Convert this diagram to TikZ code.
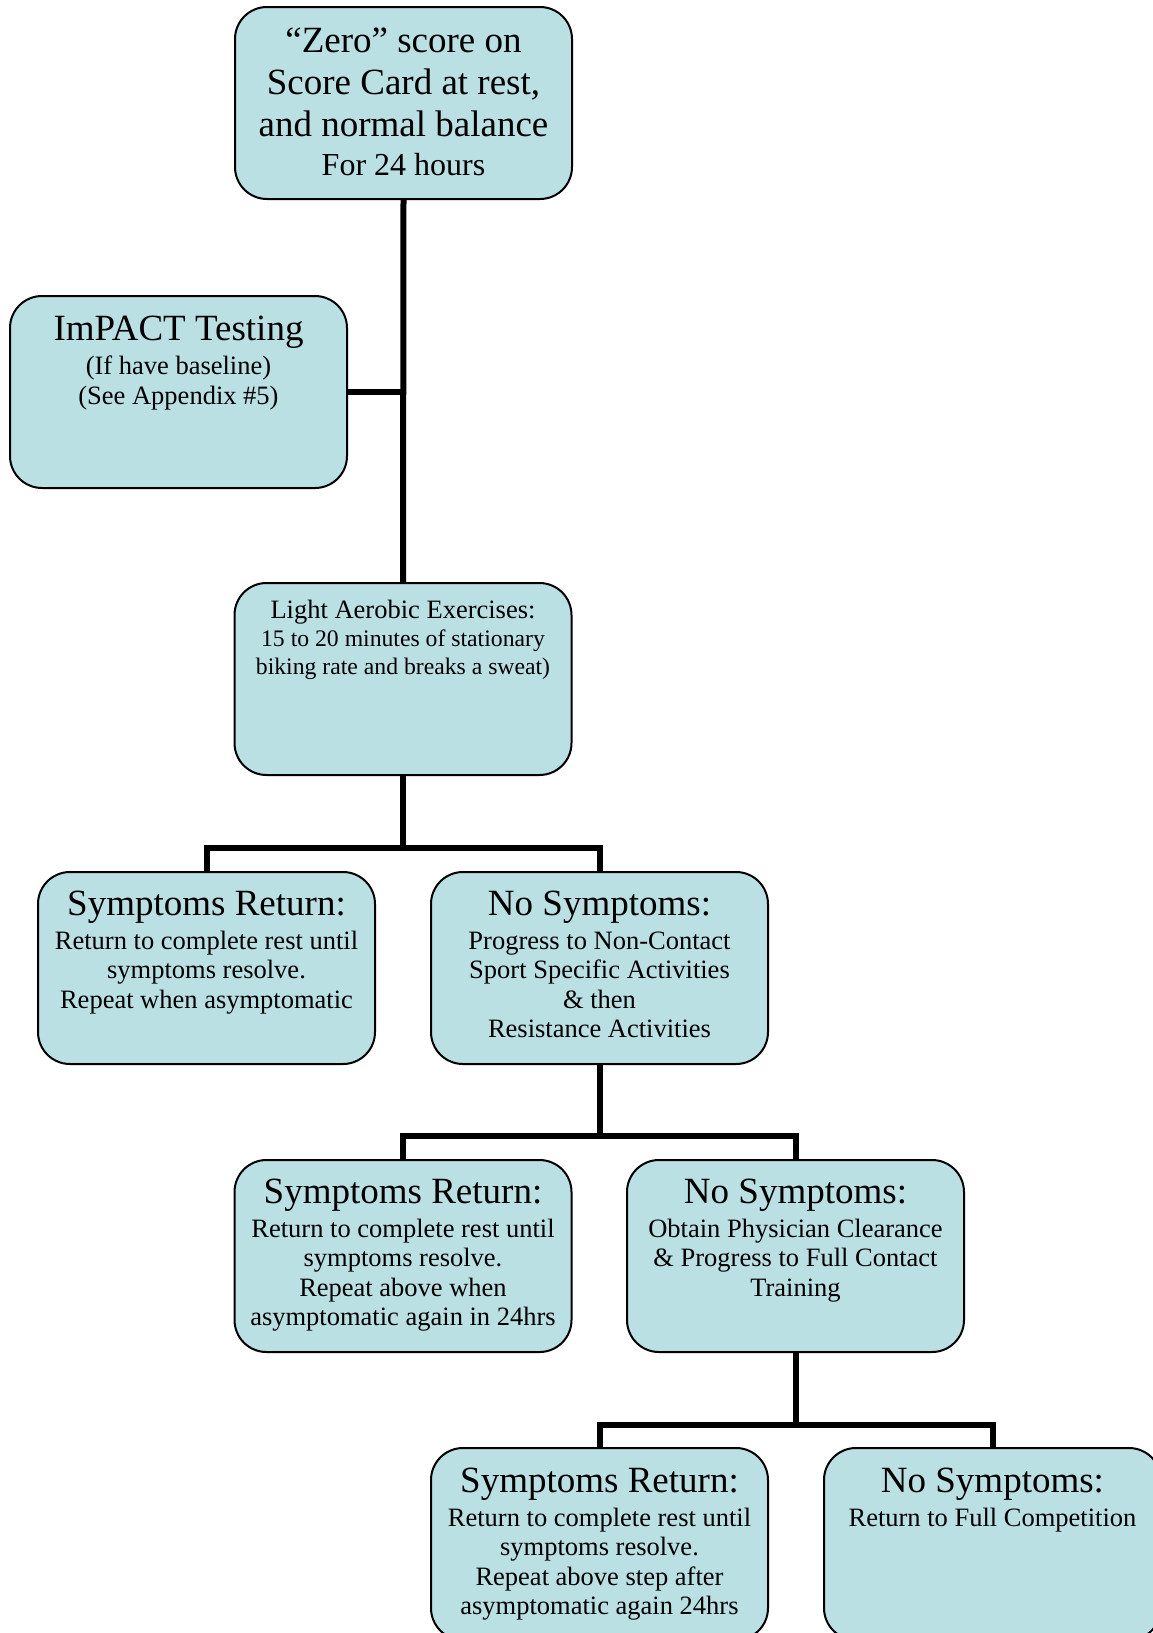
\documentclass[tikz,border=0pt]{standalone}
\usepackage{fontspec}
\setmainfont{Liberation Serif}
\definecolor{cardfill}{RGB}{187,224,228}
\newcommand\FtTitle{\fontsize{37}{42}\selectfont}
\newcommand\FtBody{\fontsize{26.5}{29.5}\selectfont}
\newcommand\FtSmall{\fontsize{23.7}{28}\selectfont}
\tikzset{
  card/.style={draw=black, line width=2pt, fill=cardfill, rounded corners=32pt,
    minimum width=337pt, minimum height=192pt, inner sep=0pt, anchor=north west},
  cardtext/.style={anchor=base, align=center, inner sep=0pt},
  link/.style={draw=black, line width=6pt, line join=miter}
}
\begin{document}
\begin{tikzpicture}[x=1pt,y=-1pt]
\useasboundingbox (0,0) rectangle (1153,1633);
% boxes
\node[card] (b1) at (234,6) {};
\node[card] (b2) at (9,295) {};
\node[card] (b3) at (233.5,582) {};
\node[card] (r2a) at (37,871) {};
\node[card] (r2b) at (430,871) {};
\node[card] (r3a) at (233.5,1159) {};
\node[card] (r3b) at (626,1159) {};
\node[card] (r4a) at (430,1447) {};
\node[card] (r4b) at (823,1447) {};
% texts (anchor = baseline of the last line)
\node[cardtext, font=\FtTitle] (t1) at ([yshift=-169pt]b1.north)
  {“Zero” score on\\Score Card at rest,\\and normal balance\\[-3pt]{\fontsize{32}{39}\selectfont For 24 hours}};
\node[cardtext, font=\FtBody] (t2) at ([yshift=-109pt]b2.north)
  {{\FtTitle ImPACT Testing}\\[4.5pt](If have baseline)\\(See Appendix \#5)};
\node[cardtext, font=\FtSmall] (t3) at ([yshift=-92pt]b3.north)
  {{\FtBody Light Aerobic Exercises:}\\15 to 20 minutes of stationary\\biking rate and breaks a sweat)};
\node[cardtext, font=\FtBody] (t4) at ([yshift=-137pt]r2a.north)
  {{\FtTitle Symptoms Return:}\\[4.5pt]Return to complete rest until\\symptoms resolve.\\Repeat when asymptomatic};
\node[cardtext, font=\FtBody] (t5) at ([yshift=-166.5pt]r2b.north)
  {{\FtTitle No Symptoms:}\\[4.5pt]Progress to Non-Contact\\Sport Specific Activities\\\& then\\Resistance Activities};
\node[cardtext, font=\FtBody] (t6) at ([yshift=-166.5pt]r3a.north)
  {{\FtTitle Symptoms Return:}\\[4.5pt]Return to complete rest until\\symptoms resolve.\\Repeat above when\\asymptomatic again in 24hrs};
\node[cardtext, font=\FtBody] (t7) at ([yshift=-137pt]r3b.north)
  {{\FtTitle No Symptoms:}\\[4.5pt]Obtain Physician Clearance\\\& Progress to Full Contact\\Training};
\node[cardtext, font=\FtBody] (t8) at ([yshift=-167.5pt]r4a.north)
  {{\FtTitle Symptoms Return:}\\[4.5pt]Return to complete rest until\\symptoms resolve.\\Repeat above step after\\asymptomatic again 24hrs};
\node[cardtext, font=\FtBody] (t9) at ([yshift=-79pt]r4b.north)
  {{\FtTitle No Symptoms:}\\[4.5pt]Return to Full Competition};
% junctions
\coordinate (j1) at ([yshift=-72pt]b3.south);
\coordinate (j2) at ([yshift=-71pt]r2b.south);
\coordinate (j3) at ([yshift=-72pt]r3b.south);
% connectors
\draw[link] (b1.south) -- (b3.north);
\draw[link] (b2.east) -- (b2.east -| b1.south);
\draw[link] (b3.south) -- (j1);
\draw[link] (r2a.north) |- (j1) -| (r2b.north);
\draw[link] (r2b.south) -- (j2);
\draw[link] (r3a.north) |- (j2) -| (r3b.north);
\draw[link] (r3b.south) -- (j3);
\draw[link] (r4a.north) |- (j3) -| (r4b.north);
\end{tikzpicture}
\end{document}
